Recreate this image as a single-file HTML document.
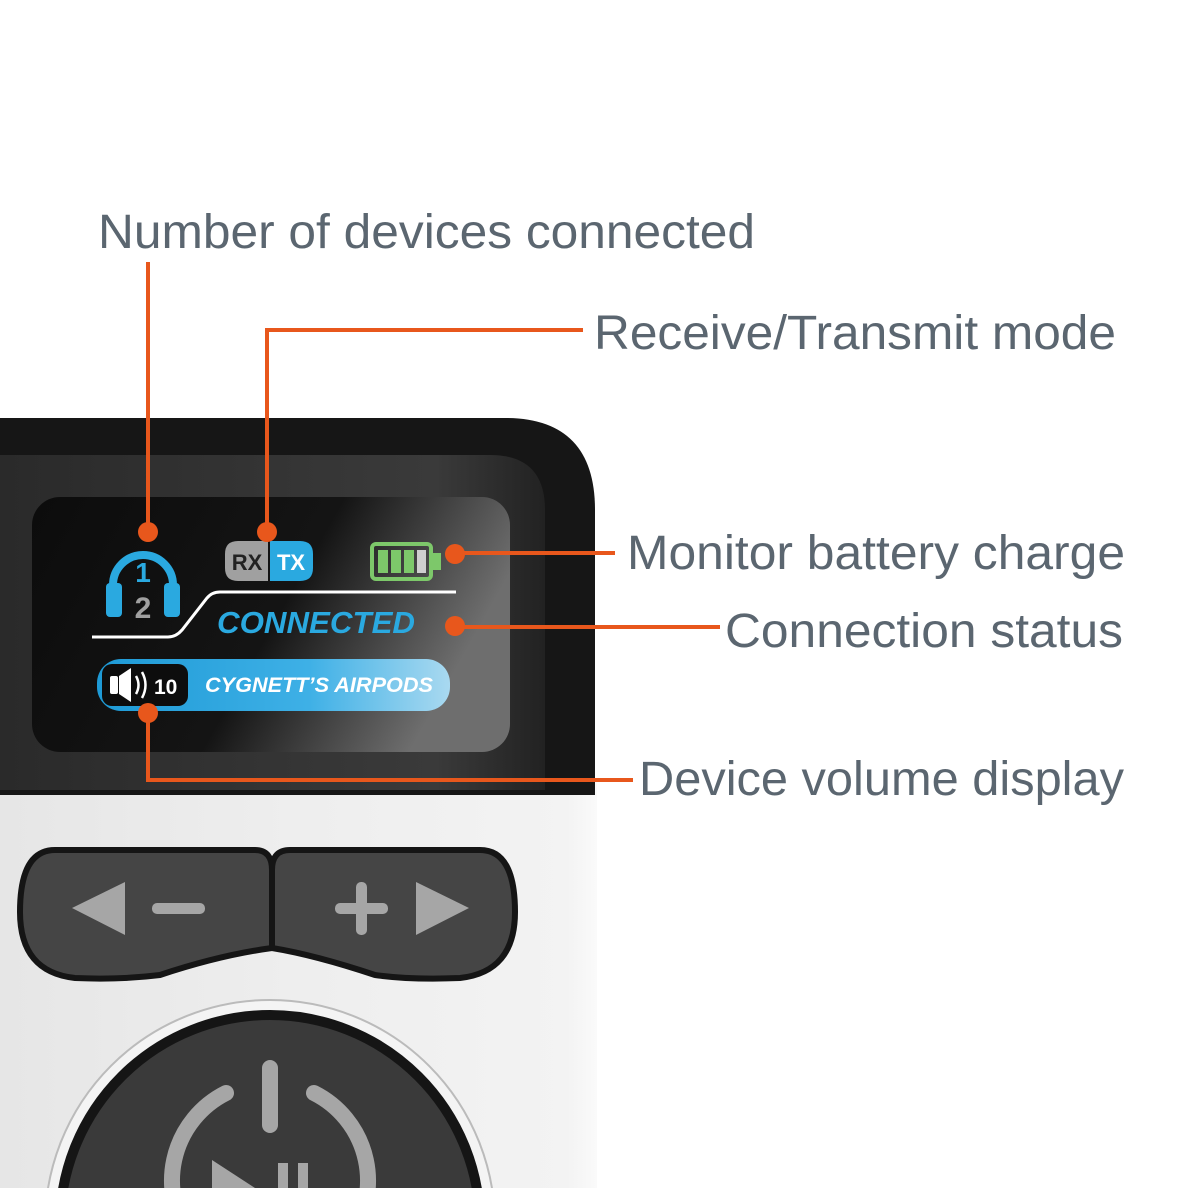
<!DOCTYPE html>
<html><head><meta charset="utf-8"><style>
html,body{margin:0;padding:0;background:#fff;width:1188px;height:1188px;overflow:hidden}
svg{display:block}
.lbl{font-family:"Liberation Sans",sans-serif;font-size:48px;fill:#5b6670}
</style></head><body>
<svg width="1188" height="1188" viewBox="0 0 1188 1188" xmlns="http://www.w3.org/2000/svg">
<defs>
<linearGradient id="scr" x1="0" y1="0" x2="1" y2="0.3">
<stop offset="0" stop-color="#0c0c0c"/><stop offset="0.6" stop-color="#141414"/><stop offset="1" stop-color="#6e6e6e"/>
</linearGradient>
<linearGradient id="bez" x1="0" y1="0" x2="1" y2="0">
<stop offset="0" stop-color="#2a2a2a"/><stop offset="0.8" stop-color="#3a3a3a"/><stop offset="1" stop-color="#222"/>
</linearGradient>
<linearGradient id="pill" x1="0" y1="0" x2="1" y2="0">
<stop offset="0" stop-color="#1e9ad6"/><stop offset="0.6" stop-color="#3eb0e6"/><stop offset="1" stop-color="#a9d9f0"/>
</linearGradient>
<linearGradient id="body" x1="0" y1="0" x2="1" y2="0">
<stop offset="0" stop-color="#e6e6e6"/><stop offset="0.5" stop-color="#eeeeee"/><stop offset="0.95" stop-color="#f3f3f3"/><stop offset="1" stop-color="#fafafa"/>
</linearGradient>
</defs>
<rect width="1188" height="1188" fill="#fff"/>
<rect x="0" y="780" width="597" height="408" fill="url(#body)"/>
<path d="M0 418 H505 Q595 418 595 510 V795 H0 Z" fill="#161616"/>
<path d="M0 455 H490 Q545 455 545 510 V790 H0 Z" fill="url(#bez)"/>
<rect x="32" y="497" width="478" height="255" rx="28" fill="url(#scr)"/>
<path d="M55 850 H255 Q272 850 272 870 V948 Q220 955 160 975 Q120 980 75 978 Q20 972 20 912 Q20 850 55 850 Z" fill="#454545" stroke="#151515" stroke-width="6"/>
<path d="M290 850 H480 Q515 850 515 912 Q515 972 460 978 Q410 980 375 975 Q315 955 272 948 V870 Q272 850 290 850 Z" fill="#454545" stroke="#151515" stroke-width="6"/>
<path d="M72 908 L125 882 V935 Z" fill="#a6a6a6"/>
<rect x="152" y="903" width="53" height="11" rx="5" fill="#a6a6a6"/>
<rect x="335" y="903" width="53" height="11" rx="5" fill="#a6a6a6"/>
<rect x="356" y="882" width="11" height="53" rx="5" fill="#a6a6a6"/>
<path d="M416 882 L469 908 L416 935 Z" fill="#a6a6a6"/>
<circle cx="270" cy="1225" r="225" fill="#f4f4f4" stroke="#bbb" stroke-width="2"/>
<circle cx="270" cy="1225" r="210" fill="#3a3a3a" stroke="#151515" stroke-width="10"/>
<path d="M226 1093 A98 98 0 1 0 314 1093" fill="none" stroke="#a6a6a6" stroke-width="16" stroke-linecap="round"/>
<line x1="270" y1="1068" x2="270" y2="1125" stroke="#a6a6a6" stroke-width="16" stroke-linecap="round"/>
<path d="M212 1160 L255 1188 H212 Z" fill="#a6a6a6"/>
<rect x="278" y="1163" width="10" height="30" fill="#a6a6a6"/><rect x="298" y="1163" width="10" height="30" fill="#a6a6a6"/>
<path d="M113 597 V585 A30 30 0 0 1 173 585 V597" fill="none" stroke="#2aa9e0" stroke-width="8"/>
<rect x="106" y="583" width="16" height="34" rx="4" fill="#2aa9e0"/>
<rect x="164" y="583" width="16" height="34" rx="4" fill="#2aa9e0"/>
<text x="143" y="582" text-anchor="middle" font-family="Liberation Sans,sans-serif" font-weight="bold" font-size="28" fill="#2aa9e0">1</text>
<text x="143" y="618" text-anchor="middle" font-family="Liberation Sans,sans-serif" font-weight="bold" font-size="30" fill="#a0a0a0">2</text>
<path d="M238 541 H268 V581 H238 Q225 581 225 568 V554 Q225 541 238 541 Z" fill="#a0a0a0"/>
<path d="M270 541 H300 Q313 541 313 554 V568 Q313 581 300 581 H270 Z" fill="#2aa9e0"/>
<text x="247" y="570" text-anchor="middle" font-family="Liberation Sans,sans-serif" font-weight="bold" font-size="22" fill="#222">RX</text>
<text x="291" y="570" text-anchor="middle" font-family="Liberation Sans,sans-serif" font-weight="bold" font-size="22" fill="#fff">TX</text>
<rect x="372" y="544" width="59" height="35" rx="4" fill="none" stroke="#7dc86a" stroke-width="4"/>
<rect x="432" y="553" width="9" height="17" fill="#7dc86a"/>
<rect x="378" y="550" width="10" height="23" fill="#7dc86a"/><rect x="391" y="550" width="10" height="23" fill="#7dc86a"/><rect x="404" y="550" width="10" height="23" fill="#7dc86a"/><rect x="417" y="550" width="9" height="23" fill="#cfcfcf"/>
<path d="M92 637 H168 Q176 637 182 630 L207 598 Q212 592 220 592 H456" fill="none" stroke="#fff" stroke-width="3"/>
<text x="217" y="633" font-family="Liberation Sans,sans-serif" font-weight="bold" font-style="italic" font-size="31" fill="#2aa9e0" textLength="198" lengthAdjust="spacingAndGlyphs">CONNECTED</text>
<rect x="97" y="659" width="353" height="52" rx="24" fill="url(#pill)"/>
<rect x="102" y="664" width="86" height="42" rx="10" fill="#0d0d0d"/>
<rect x="110" y="676" width="8" height="18" rx="2" fill="#fff"/>
<path d="M119 676 L131 668 V702 L119 694 Z" fill="#fff"/>
<path d="M136 676 Q141 685 136 694 M142 672 Q149 685 142 698" fill="none" stroke="#fff" stroke-width="2.5"/>
<text x="154" y="694" font-family="Liberation Sans,sans-serif" font-weight="bold" font-size="21" fill="#fff">10</text>
<text x="205" y="692" font-family="Liberation Sans,sans-serif" font-weight="bold" font-style="italic" font-size="21" fill="#fff" textLength="228" lengthAdjust="spacingAndGlyphs">CYGNETT’S AIRPODS</text>
<g stroke="#e8571c" stroke-width="4" fill="none">
<path d="M148 262 V532"/>
<path d="M267 532 V330 H583"/>
<path d="M455 553 H615"/>
<path d="M455 627 H720"/>
<path d="M148 713 V780 H633"/>
</g>
<g fill="#e8571c">
<circle cx="148" cy="532" r="10"/><circle cx="267" cy="532" r="10"/>
<circle cx="455" cy="554" r="10"/><circle cx="455" cy="626" r="10"/>
<circle cx="148" cy="713" r="10"/>
</g>
<text class="lbl" x="98" y="248" textLength="657" lengthAdjust="spacingAndGlyphs">Number of devices connected</text>
<text class="lbl" x="594" y="349" textLength="522" lengthAdjust="spacingAndGlyphs">Receive/Transmit mode</text>
<text class="lbl" x="627" y="569" textLength="498" lengthAdjust="spacingAndGlyphs">Monitor battery charge</text>
<text class="lbl" x="725" y="647" textLength="398" lengthAdjust="spacingAndGlyphs">Connection status</text>
<text class="lbl" x="639" y="795" textLength="485" lengthAdjust="spacingAndGlyphs">Device volume display</text>
</svg>
</body></html>
